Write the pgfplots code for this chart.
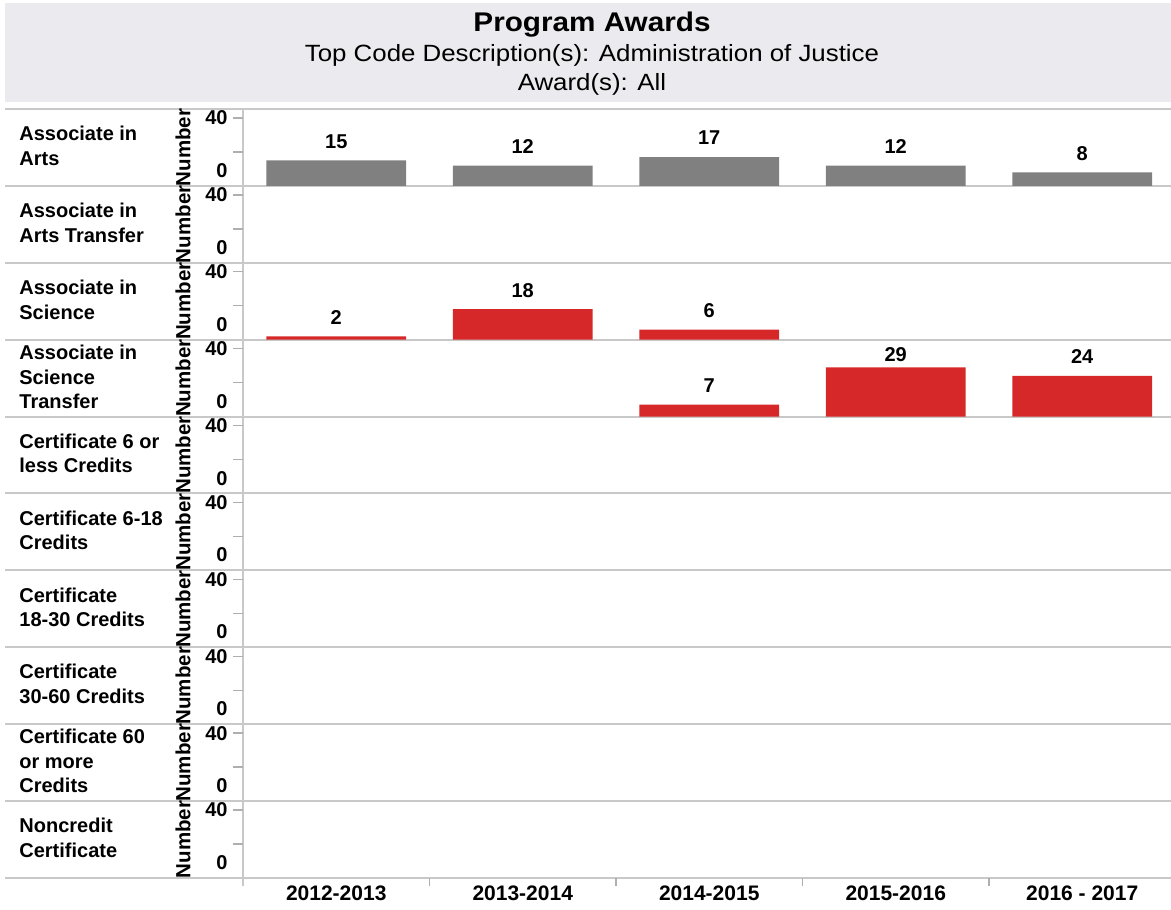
\documentclass[border=0pt]{standalone}
\usepackage{fontspec}
\setmainfont{Liberation Sans}
\newfontfamily\hdrfont[FakeStretch=1.1]{Liberation Sans}
\usepackage{pgfplots}
\usepackage{pgfplotstable}
\pgfplotsset{compat=1.18}

\definecolor{hdr}{RGB}{235,235,239}
\definecolor{sepc}{RGB}{200,200,200}
\definecolor{tickc}{RGB}{175,175,175}
\definecolor{bargray}{RGB}{128,128,128}
\definecolor{barred}{RGB}{214,40,40}

\pgfplotstableread{
x y dy
0 15 9.5
1 12 9.5
2 17 9.5
3 12 9.5
4 8 9.5
}\dataAA
\pgfplotstableread{
x y dy
0 2 9.5
1 18 9.5
2 6 9.5
}\dataAS
\pgfplotstableread{
x y dy
2 7 9.5
3 29 6.35
4 24 9.5
}\dataAST

\pgfplotsset{
  rowax/.style={
    scale only axis, width=464pt, height=38.45pt,
    xmin=-0.5, xmax=4.476, ymin=0, ymax=45.3,
    axis line style={draw=none},
    tick align=outside, major tick length=5pt,
    ytick={20,40}, yticklabels={,40},
    ytick pos=left, xtick=\empty,
    tick style={draw=tickc, line width=0.7pt},
    extra y ticks={9}, extra y tick labels={0},
    extra y tick style={tick style={draw=none}},
    yticklabel style={font=\bfseries\fontsize{10pt}{12pt}\selectfont, inner sep=2.5pt},
    ylabel={Number},
    ylabel style={at={(axis description cs:-0.0647,0.5)}, anchor=center,
      font=\bfseries\fontsize{10.25pt}{12pt}\selectfont},
    /pgf/number format/assume math mode=true,
    clip=false,
    anchor=south west,
  },
  barplot/.style={ybar, bar width=0.75, fill=#1, draw=none,
    visualization depends on={\thisrow{dy} \as \dy},
    nodes near coords,
    every node near coord/.append style={anchor=center, yshift=\dy pt,
      font=\bfseries\fontsize{10pt}{12pt}\selectfont, text=black}},
}

\begin{document}
\begin{tikzpicture}[x=0.5pt,y=0.5pt]
\useasboundingbox (0,0) rectangle (1171,909);
\fill[hdr] (5,909-3) rectangle (1171,909-102);
\node[font=\hdrfont\bfseries\fontsize{13.5pt}{16pt}\selectfont] at (592,909-24.5) {Program Awards};
\node[font=\hdrfont\fontsize{11.75pt}{14pt}\selectfont] at (592,909-55) {Top Code Description(s): Administration of Justice};
\node[font=\hdrfont\fontsize{11.75pt}{14pt}\selectfont] at (592,909-84) {Award(s): All};

\foreach \i in {0,...,10} \draw[sepc, line width=1pt] (5,909-109-76.9*\i) -- (1171,909-109-76.9*\i);
\draw[sepc, line width=1pt] (243,909-109) -- (243,909-886);
\foreach \x in {429.5,616,802.5,989} \draw[tickc, line width=0.7pt] (\x,909-878) -- (\x,909-886);

% row labels
\tikzset{rl/.style={anchor=west, align=left, inner sep=0pt, font=\bfseries\fontsize{10pt}{12.25pt}\selectfont}}
\node[rl] at (19,909-146) {Associate in\\Arts};
\node[rl] at (19,909-223) {Associate in\\Arts Transfer};
\node[rl] at (19,909-300) {Associate in\\Science};
\node[rl] at (19,909-377) {Associate in\\Science\\Transfer};
\node[rl] at (19,909-453.5) {Certificate 6 or\\less Credits};
\node[rl] at (19,909-530.5) {Certificate 6-18\\Credits};
\node[rl] at (19,909-607.5) {Certificate\\18-30 Credits};
\node[rl] at (19,909-684) {Certificate\\30-60 Credits};
\node[rl] at (19,909-761) {Certificate 60\\or more\\Credits};
\node[rl] at (19,909-838) {Noncredit\\Certificate};

% row 1
\begin{axis}[rowax, at={(121.5pt,361.55pt)}]
\addplot[barplot=bargray] table[x=x,y=y] {\dataAA};
\end{axis}
% row 2
\begin{axis}[rowax, at={(121.5pt,323.1pt)}]
\end{axis}
% row 3
\begin{axis}[rowax, at={(121.5pt,284.65pt)}]
\addplot[barplot=barred] table[x=x,y=y] {\dataAS};
\end{axis}
% row 4
\begin{axis}[rowax, at={(121.5pt,246.2pt)}]
\addplot[barplot=barred] table[x=x,y=y] {\dataAST};
\end{axis}
% rows 5-9
\begin{axis}[rowax, at={(121.5pt,207.75pt)}]
\end{axis}
\begin{axis}[rowax, at={(121.5pt,169.3pt)}]
\end{axis}
\begin{axis}[rowax, at={(121.5pt,130.85pt)}]
\end{axis}
\begin{axis}[rowax, at={(121.5pt,92.4pt)}]
\end{axis}
\begin{axis}[rowax, at={(121.5pt,53.95pt)}]
\end{axis}
% row 10 with x labels
\begin{axis}[rowax, at={(121.5pt,15.5pt)},
  xtick={0,1,2,3,4},
  xticklabels={2012-2013,2013-2014,2014-2015,2015-2016,2016 - 2017},
  xtick pos=bottom, xtick style={draw=none},
  xticklabel style={font=\bfseries\fontsize{10.5pt}{12pt}\selectfont, inner sep=0pt, yshift=1.25pt}]
\end{axis}
\end{tikzpicture}
\end{document}
